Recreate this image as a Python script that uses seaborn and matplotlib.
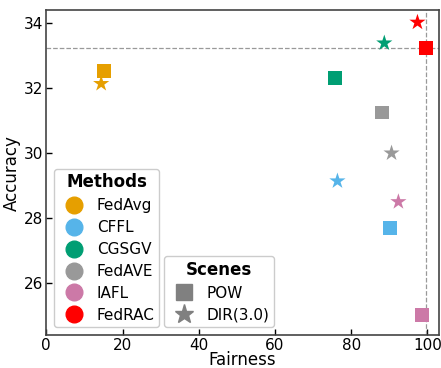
import matplotlib
matplotlib.use("Agg")
import matplotlib.pyplot as plt
import seaborn as sns
import pandas as pd
from matplotlib.lines import Line2D

methods = ["FedAvg", "CFFL", "CGSGV", "FedAVE", "IAFL", "FedRAC"]
colors = ["#E69F00", "#56B4E9", "#009E73", "#999999", "#CC79A7", "#FF0000"]
scenes = ["POW", "DIR(3.0)"]
pow_fair = [15.2, 90.3, 75.7, 88.0, 98.7, 99.7]
pow_acc = [32.53, 27.68, 32.32, 31.25, 25.02, 33.24]
dir_fair = [14.4, 76.4, 88.7, 90.6, 92.4, 97.4]
dir_acc = [32.14, 29.14, 33.39, 30.0, 28.5, 34.03]

df = pd.DataFrame({
    "Method": methods * 2,
    "Scene": ["POW"] * 6 + ["DIR(3.0)"] * 6,
    "Fairness": pow_fair + dir_fair,
    "Accuracy": pow_acc + dir_acc,
})

sns.set_style("white")
plt.rcParams['font.family'] = ['DejaVu Sans']
plt.rcParams['text.color'] = 'black'
plt.rcParams['axes.labelcolor'] = 'black'
plt.rcParams['xtick.color'] = 'black'
plt.rcParams['ytick.color'] = 'black'
fig, ax = plt.subplots(figsize=(4.41, 3.68), dpi=100)
palette = dict(zip(methods, colors))
dfp = df[df.Scene == "POW"]
dfd = df[df.Scene == "DIR(3.0)"]
sns.scatterplot(data=dfp, x="Fairness", y="Accuracy", hue="Method", palette=palette,
                marker="s", s=100, linewidth=0, ax=ax, legend=False, zorder=3)
sns.scatterplot(data=dfd, x="Fairness", y="Accuracy", hue="Method", palette=palette,
                marker="*", s=150, linewidth=0, ax=ax, legend=False, zorder=3)

ax.axhline(pow_acc[5], color="#999999", ls="--", lw=0.9, zorder=1)
ax.axvline(pow_fair[5], color="#999999", ls="--", lw=0.9, zorder=1)

ax.set_xlim(0, 103)
ax.set_ylim(24.4, 34.4)
ax.set_xticks([0, 20, 40, 60, 80, 100])
ax.set_yticks([26, 28, 30, 32, 34])
ax.tick_params(direction="in", labelsize=11, length=4, width=1, pad=2,
               bottom=True, left=True, colors="black")
ax.set_xlabel("Fairness", fontsize=12, labelpad=-1)
ax.set_ylabel("Accuracy", fontsize=12, labelpad=2)
for sp in ax.spines.values():
    sp.set_color("#444444")
    sp.set_linewidth(1.2)

h1 = [Line2D([], [], marker="o", ls="", color=c, markersize=12) for c in colors]
leg1 = ax.legend(h1, methods, title="Methods", loc="lower left", fontsize=11,
                 title_fontproperties={"weight": "bold", "size": 12},
                 handletextpad=0.5, borderpad=0.3, labelspacing=0.45,
                 bbox_to_anchor=(0.0, 0.0), framealpha=1)
ax.add_artist(leg1)
h2 = [Line2D([], [], marker="s", ls="", color="#808080", markersize=11),
      Line2D([], [], marker="*", ls="", color="#808080", markersize=14)]
leg2 = ax.legend(h2, scenes, title="Scenes", loc="lower left", fontsize=11,
                 title_fontproperties={"weight": "bold", "size": 12},
                 handletextpad=0.5, borderpad=0.3, labelspacing=0.45,
                 bbox_to_anchor=(0.28, 0.0), framealpha=1)

plt.subplots_adjust(left=0.105, right=0.995, top=0.972, bottom=0.09)
fig.savefig("out.png", dpi=100)
